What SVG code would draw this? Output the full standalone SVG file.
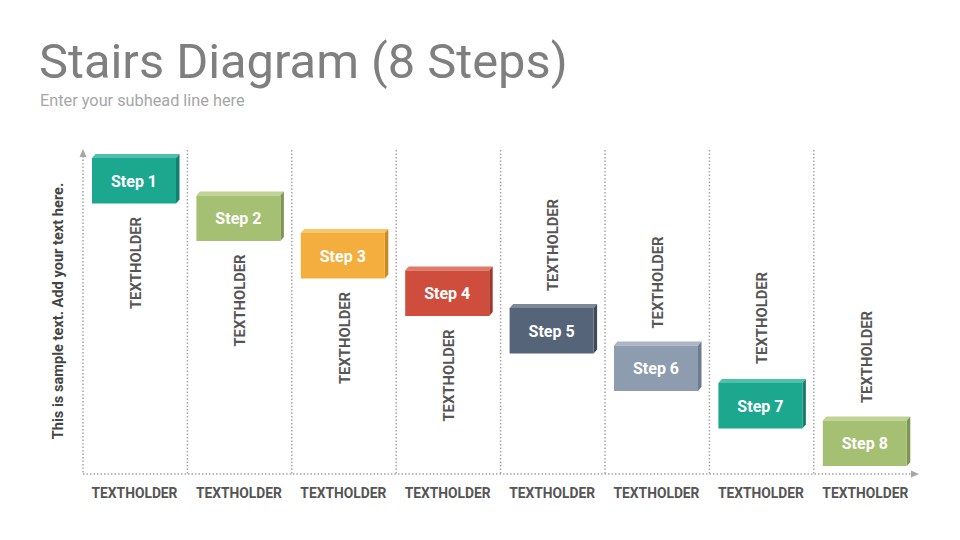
<svg xmlns="http://www.w3.org/2000/svg" width="960" height="540" viewBox="0 0 960 540">
<defs>
<style>
.title{font-family:Roboto,"Liberation Sans",sans-serif;font-size:48.8px;fill:#7f7f7f}
.sub{font-family:Roboto,"Liberation Sans",sans-serif;font-size:16.3px;fill:#a6a6a6}
.step{font-family:Roboto,"Liberation Sans",sans-serif;font-weight:bold;font-size:16px;fill:#ffffff;text-anchor:middle}
.vt{font-family:Roboto,"Liberation Sans",sans-serif;font-weight:bold;font-size:14.8px;fill:#555555;text-anchor:middle}
.bt{font-family:Roboto,"Liberation Sans",sans-serif;font-weight:bold;font-size:13.8px;fill:#555555;text-anchor:middle}
.side{font-family:Roboto,"Liberation Sans",sans-serif;font-weight:bold;font-size:14.6px;fill:#444444;text-anchor:middle}
.dot{fill:none;stroke:#a6a6a6;stroke-width:1.5;stroke-dasharray:1.5 2}
.arrow{fill:#a6a6a6}
</style>
</defs>
<rect width="960" height="540" fill="#ffffff"/>
<text class="title" x="39" y="78">Stairs Diagram (8 Steps)</text>
<text class="sub" x="40" y="106">Enter your subhead line here</text>
<text class="side" transform="translate(58,311) rotate(-90)" dy="0.36em">This is sample text. Add your text here.</text>
<g id="connectors">
<line class="dot" x1="83" y1="156" x2="83" y2="474"/>
<line class="dot" x1="83" y1="474" x2="912" y2="474"/>
<polygon class="arrow" points="83,149 79.5,157 86.5,157"/>
<polygon class="arrow" points="919,474 911,470.5 911,477.5"/>
<line class="dot" x1="187.4" y1="150" x2="187.4" y2="474"/>
<line class="dot" x1="291.8" y1="150" x2="291.8" y2="474"/>
<line class="dot" x1="396.2" y1="150" x2="396.2" y2="474"/>
<line class="dot" x1="500.6" y1="150" x2="500.6" y2="474"/>
<line class="dot" x1="605" y1="150" x2="605" y2="474"/>
<line class="dot" x1="709.4" y1="150" x2="709.4" y2="474"/>
<line class="dot" x1="813.8" y1="150" x2="813.8" y2="474"/>
</g>
<g id="step1">
<polygon points="92,158 95.5,154 179.5,154 176,158" fill="#50c0aa"/>
<polygon points="176,158 179.5,154 179.5,199.5 176,203.5" fill="#167f6c"/>
<rect x="92" y="158" width="84" height="45.5" fill="#1ba88e"/>
<text class="step" x="134" y="186.5">Step 1</text>
<text class="vt" transform="translate(135.5,263) rotate(-90)" dy="0.36em">TEXTHOLDER</text>
<text class="bt" x="134.5" y="498">TEXTHOLDER</text>
</g>
<g id="step2">
<polygon points="196.4,195.5 199.9,191.5 283.9,191.5 280.4,195.5" fill="#bfd494"/>
<polygon points="280.4,195.5 283.9,191.5 283.9,237 280.4,241" fill="#7f9651"/>
<rect x="196.4" y="195.5" width="84" height="45.5" fill="#a5c072"/>
<text class="step" x="238.4" y="224">Step 2</text>
<text class="vt" transform="translate(239.9,300.5) rotate(-90)" dy="0.36em">TEXTHOLDER</text>
<text class="bt" x="238.9" y="498">TEXTHOLDER</text>
</g>
<g id="step3">
<polygon points="300.8,233 304.3,229 388.3,229 384.8,233" fill="#f7c56c"/>
<polygon points="384.8,233 388.3,229 388.3,274.5 384.8,278.5" fill="#c98a25"/>
<rect x="300.8" y="233" width="84" height="45.5" fill="#f3ae3d"/>
<text class="step" x="342.8" y="261.5">Step 3</text>
<text class="vt" transform="translate(344.3,338) rotate(-90)" dy="0.36em">TEXTHOLDER</text>
<text class="bt" x="343.3" y="498">TEXTHOLDER</text>
</g>
<g id="step4">
<polygon points="405.2,270.5 408.7,266.5 492.7,266.5 489.2,270.5" fill="#df7a6b"/>
<polygon points="489.2,270.5 492.7,266.5 492.7,312 489.2,316" fill="#a33628"/>
<rect x="405.2" y="270.5" width="84" height="45.5" fill="#cf4d3c"/>
<text class="step" x="447.2" y="299">Step 4</text>
<text class="vt" transform="translate(448.7,375.5) rotate(-90)" dy="0.36em">TEXTHOLDER</text>
<text class="bt" x="447.7" y="498">TEXTHOLDER</text>
</g>
<g id="step5">
<polygon points="509.6,308 513.1,304 597.1,304 593.6,308" fill="#7c889a"/>
<polygon points="593.6,308 597.1,304 597.1,349.5 593.6,353.5" fill="#3e4a5c"/>
<rect x="509.6" y="308" width="84" height="45.5" fill="#566479"/>
<text class="step" x="551.6" y="336.5">Step 5</text>
<text class="vt" transform="translate(553.1,245) rotate(-90)" dy="0.36em">TEXTHOLDER</text>
<text class="bt" x="552.1" y="498">TEXTHOLDER</text>
</g>
<g id="step6">
<polygon points="614,345.5 617.5,341.5 701.5,341.5 698,345.5" fill="#aab5c5"/>
<polygon points="698,345.5 701.5,341.5 701.5,387 698,391" fill="#6f7c90"/>
<rect x="614" y="345.5" width="84" height="45.5" fill="#8e9cb0"/>
<text class="step" x="656" y="374">Step 6</text>
<text class="vt" transform="translate(657.5,282.5) rotate(-90)" dy="0.36em">TEXTHOLDER</text>
<text class="bt" x="656.5" y="498">TEXTHOLDER</text>
</g>
<g id="step7">
<polygon points="718.4,383 721.9,379 805.9,379 802.4,383" fill="#50c0aa"/>
<polygon points="802.4,383 805.9,379 805.9,424.5 802.4,428.5" fill="#167f6c"/>
<rect x="718.4" y="383" width="84" height="45.5" fill="#1ba88e"/>
<text class="step" x="760.4" y="411.5">Step 7</text>
<text class="vt" transform="translate(761.9,318) rotate(-90)" dy="0.36em">TEXTHOLDER</text>
<text class="bt" x="760.9" y="498">TEXTHOLDER</text>
</g>
<g id="step8">
<polygon points="822.8,420.5 826.3,416.5 910.3,416.5 906.8,420.5" fill="#bfd494"/>
<polygon points="906.8,420.5 910.3,416.5 910.3,462 906.8,466" fill="#7f9651"/>
<rect x="822.8" y="420.5" width="84" height="45.5" fill="#a5c072"/>
<text class="step" x="864.8" y="449">Step 8</text>
<text class="vt" transform="translate(866.3,357) rotate(-90)" dy="0.36em">TEXTHOLDER</text>
<text class="bt" x="865.3" y="498">TEXTHOLDER</text>
</g>
</svg>
